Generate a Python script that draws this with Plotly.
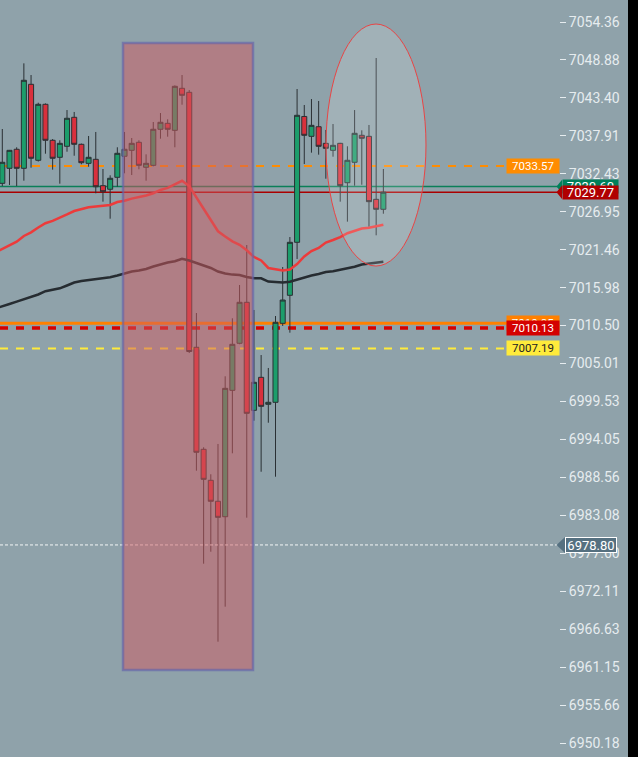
import plotly.graph_objects as go

# ---------------- data ----------------
candle_idx = list(range(54))
opens = [7031.05, 7033.22, 7035.97, 7033.22, 7045.36, 7034.38, 7042.47, 7037.27, 7034.81, 7036.40,
         7040.59, 7036.69, 7033.94, 7034.52, 7030.71, 7030.19, 7031.92, 7034.96, 7035.82, 7036.98,
         7033.37, 7033.65, 7038.86, 7039.72, 7038.71, 7044.78, 7044.20, 7007.36, 6992.62, 6988.14,
         6985.11, 6982.88, 7001.14, 7007.94, 7013.86, 6998.25, 7003.02, 6999.12, 6999.41, 7010.82,
         7014.87, 7022.53, 7040.71, 7037.84, 7039.23, 7036.83, 7035.82, 7036.83, 7031.14, 7034.09,
         7037.99, 7037.84, 7028.74, 7027.30]
highs = [7038.90, 7035.87, 7036.26, 7048.39, 7046.70, 7042.70, 7042.60, 7037.45, 7037.27, 7041.64,
         7041.36, 7036.80, 7037.89, 7038.47, 7033.12, 7032.21, 7036.26, 7038.47, 7037.60, 7037.27,
         7035.24, 7039.91, 7041.21, 7040.30, 7045.20, 7046.70, 7044.53, 7012.31, 6992.91, 6989.01,
         6993.39, 7003.17, 7011.55, 7016.36, 7022.14, 7012.75, 7006.24, 7004.37, 7011.88, 7018.96,
         7023.29, 7044.68, 7042.37, 7043.23, 7042.95, 7038.76, 7039.62, 7036.90, 7036.40, 7041.64,
         7038.71, 7039.48, 7049.16, 7033.12]
lows = [7030.66, 7030.81, 7030.66, 7031.43, 7033.31, 7034.20, 7035.33, 7033.02, 7031.00, 7035.62,
        7035.04, 7033.80, 7033.45, 7029.61, 7028.40, 7025.94, 7030.56, 7032.50, 7032.25, 7033.08,
        7031.43, 7033.51, 7037.50, 7037.79, 7036.26, 7042.41, 7006.53, 6989.53, 6976.09, 6977.82,
        6964.82, 6969.88, 6992.04, 7007.80, 6982.74, 6996.75, 6989.38, 6996.46, 6988.66, 7010.44,
        7009.47, 7020.12, 7033.84, 7035.48, 7035.19, 7031.72, 7034.90, 7028.40, 7025.51, 7030.71,
        7030.85, 7024.78, 7023.54, 7026.66]
closes = [7034.09, 7035.82, 7033.22, 7045.94, 7034.67, 7042.47, 7037.27, 7034.67, 7036.83, 7040.45,
          7036.69, 7034.03, 7034.81, 7030.56, 7029.84, 7031.78, 7035.39, 7035.97, 7036.83, 7033.65,
          7033.94, 7038.86, 7039.87, 7038.86, 7045.07, 7043.77, 7006.75, 6992.19, 6988.28, 6985.11,
          6982.79, 7001.43, 7007.79, 7013.86, 6997.82, 7002.30, 6998.83, 6999.41, 7010.97, 7014.19,
          7022.53, 7040.88, 7037.99, 7039.43, 7036.40, 7036.11, 7036.54, 7030.71, 7034.38, 7038.28,
          7037.56, 7028.40, 7027.30, 7029.77]

ma_idx = list(range(-1, 54))
ma_fast = [7021.06, 7021.56, 7022.07, 7022.62, 7023.44, 7023.97, 7024.67, 7025.29, 7025.62, 7026.04,
           7026.55, 7027.05, 7027.31, 7027.59, 7027.70, 7027.82, 7027.92, 7028.35, 7028.53, 7028.84,
           7029.05, 7029.29, 7029.62, 7030.09, 7030.40, 7030.88, 7031.42, 7030.66, 7028.93, 7027.38,
           7025.75, 7024.12, 7023.37, 7022.67, 7022.17, 7021.37, 7020.41, 7019.90, 7018.82, 7018.60,
           7018.44, 7018.60, 7019.39, 7020.48, 7021.27, 7021.71, 7022.50, 7022.86, 7023.29, 7023.84,
           7024.13, 7024.52, 7024.64, 7024.81, 7025.07]
ma_slow = [7012.96, 7013.33, 7013.61, 7013.95, 7014.26, 7014.63, 7014.99, 7015.46, 7015.64, 7015.88,
           7016.29, 7016.72, 7016.94, 7017.08, 7017.18, 7017.30, 7017.47, 7017.73, 7018.02, 7018.31,
           7018.45, 7018.67, 7019.03, 7019.35, 7019.61, 7019.80, 7020.15, 7019.90, 7019.54, 7019.25,
           7018.82, 7018.30, 7018.02, 7017.86, 7017.80, 7017.52, 7017.33, 7017.33, 7016.86, 7016.79,
           7016.72, 7016.82, 7017.15, 7017.49, 7017.73, 7017.95, 7018.24, 7018.35, 7018.53, 7018.77,
           7018.99, 7019.32, 7019.47, 7019.61, 7019.73]

tick_labels = ["7054.36", "7048.88", "7043.40", "7037.91", "7032.43", "7026.95", "7021.46",
               "7015.98", "7010.50", "7005.01", "6999.53", "6994.05", "6988.56", "6983.08",
               "6977.60", "6972.11", "6966.63", "6961.15", "6955.66", "6950.18"]

level_orange_dash = 7033.57
level_green = 7030.60
level_last = 7029.77
level_orange = 7010.85
level_red_dash = 7010.13
level_yellow = 7007.19
level_cursor = 6978.80

zone_x = [16.79, 34.87]
zone_y = [6960.73, 7051.33]
ellipse_x = [45.02, 58.93]
ellipse_y = [7019.10, 7054.07]

# ---------------- figure ----------------
Y_MIN, Y_MAX = 6948.16, 7057.54
X_MIN, X_MAX = -0.32, 77.43
W, H = 638, 757
PLOT_W = 559
R_MARGIN = W - PLOT_W
BG = "#8fa2aa"


def py(v):
    return (v - Y_MIN) / (Y_MAX - Y_MIN)


def px(p):
    return p / PLOT_W


fig = go.Figure()

fig.add_trace(go.Scatter(x=ma_idx, y=ma_slow, mode="lines",
                         line=dict(color="#262c31", width=2.5), hoverinfo="skip", showlegend=False))
fig.add_trace(go.Scatter(x=ma_idx, y=ma_fast, mode="lines",
                         line=dict(color="#ec3b3b", width=2.5), hoverinfo="skip", showlegend=False))

fig.add_trace(go.Candlestick(
    x=candle_idx, open=opens, high=highs, low=lows, close=closes,
    increasing=dict(fillcolor="#1c9d6b", line=dict(color="#2a3034", width=1)),
    decreasing=dict(fillcolor="#d9303c", line=dict(color="#2a3034", width=1)),
    whiskerwidth=0, hoverinfo="skip", showlegend=False))

shapes = []
# horizontal levels
shapes.append(dict(type="line", xref="paper", yref="y", x0=0, x1=1, y0=level_orange_dash, y1=level_orange_dash,
                   line=dict(color="#ff8c00", width=2, dash="8px,8px"), layer="below"))
shapes.append(dict(type="line", xref="paper", yref="y", x0=0, x1=1, y0=level_green, y1=level_green,
                   line=dict(color="#0a7f58", width=1.5), layer="below"))
shapes.append(dict(type="line", xref="paper", yref="y", x0=0, x1=1, y0=level_last, y1=level_last,
                   line=dict(color="#aa0000", width=1.5), layer="below"))
shapes.append(dict(type="line", xref="paper", yref="y", x0=0, x1=1, y0=level_orange, y1=level_orange,
                   line=dict(color="#ff8000", width=3), layer="below"))
shapes.append(dict(type="line", xref="paper", yref="y", x0=0, x1=1, y0=level_red_dash, y1=level_red_dash,
                   line=dict(color="#d60000", width=3.5, dash="8px,8px"), layer="below"))
shapes.append(dict(type="line", xref="paper", yref="y", x0=0, x1=1, y0=level_yellow, y1=level_yellow,
                   line=dict(color="#ffeb3b", width=2, dash="8px,8px"), layer="below"))
shapes.append(dict(type="line", xref="paper", yref="y", x0=0, x1=1, y0=level_cursor, y1=level_cursor,
                   line=dict(color="rgba(255,255,255,0.9)", width=1, dash="3px,2px"), layer="above"))
# zone rectangle and ellipse
shapes.append(dict(type="rect", xref="x", yref="y", x0=zone_x[0], x1=zone_x[1], y0=zone_y[0], y1=zone_y[1],
                   fillcolor="rgba(210,90,95,0.5)", line=dict(color="rgba(100,100,170,0.65)", width=2.5),
                   layer="above"))
shapes.append(dict(type="circle", xref="x", yref="y", x0=ellipse_x[0], x1=ellipse_x[1],
                   y0=ellipse_y[0], y1=ellipse_y[1],
                   fillcolor="rgba(255,255,255,0.16)", line=dict(color="#e84545", width=1), layer="above"))


def arrow(value, color, tip_px, base_px, half_px):
    hh = half_px / H
    return dict(type="path", xref="paper", yref="paper",
                path=f"M {px(tip_px)},{py(value)} L {px(base_px)},{py(value) + hh} L {px(base_px)},{py(value) - hh} Z",
                fillcolor=color, line=dict(width=0), layer="above")


shapes.append(arrow(level_green, "#00805a", 556.5, 562, 6.7))
shapes.append(arrow(level_last, "#b00000", 556.5, 562, 6.7))
shapes.append(arrow(level_cursor, "#557080", 556.5, 565, 8))
# dark strip along the right edge of the window
shapes.append(dict(type="rect", xref="paper", yref="paper", x0=px(628), x1=px(700), y0=-0.05, y1=1.05,
                   fillcolor="#000000", line=dict(width=0), layer="above"))

annotations = []


def label(value, text, bg, fg, side, width, height, size, shift, border=None):
    a = dict(xref="paper", yref="y", x=1, y=value, text=text, showarrow=False,
             xanchor=side, yanchor="middle", xshift=shift, width=width, height=height,
             bgcolor=bg, borderpad=0, align="center",
             font=dict(family="Roboto", size=size, color=fg))
    if border:
        a["bordercolor"] = border
        a["borderwidth"] = 1
    annotations.append(a)


label(level_orange_dash, "7033.57", "#ff8c00", "#ffffff", "right", 52, 14, 11.5, 1)
label(level_green, "7030.60", "#00805a", "#ffffff", "left", 55, 13, 13, 3)
label(level_last, "7029.77", "#b00000", "#ffffff", "left", 55, 13, 13, 3)
label(level_orange, "7010.85", "#ff8000", "#ffffff", "right", 52, 14, 11.5, 1)
label(level_red_dash, "7010.13", "#d40000", "#ffffff", "right", 52, 14, 11.5, 1)
label(level_yellow, "7007.19", "#ffeb3b", "#222222", "right", 52, 14, 11.5, 1)
label(level_cursor, "6978.80", "#557080", "#ffffff", "left", 50, 14, 13, 6, border="#ffffff")

fig.update_layout(
    width=W, height=H,
    margin=dict(l=0, r=R_MARGIN, t=0, b=0),
    paper_bgcolor=BG, plot_bgcolor=BG,
    shapes=shapes, annotations=annotations,
    showlegend=False,
    boxgap=0.3, boxgroupgap=0,
    xaxis=dict(range=[X_MIN, X_MAX], visible=False, rangeslider=dict(visible=False), fixedrange=True),
    yaxis=dict(range=[Y_MIN, Y_MAX], side="right", showgrid=False, zeroline=False,
               tickvals=[float(t) for t in tick_labels], ticktext=tick_labels,
               ticks="outside", ticklen=6, tickwidth=1, tickcolor="#e6ecef",
               tickfont=dict(family="Roboto", size=14, color="#e6ecef"),
               showline=False, fixedrange=True),
)

fig.write_html("out.html", config={"displayModeBar": False},
               post_script="document.body.style.margin='0';document.body.style.overflow='hidden';")
